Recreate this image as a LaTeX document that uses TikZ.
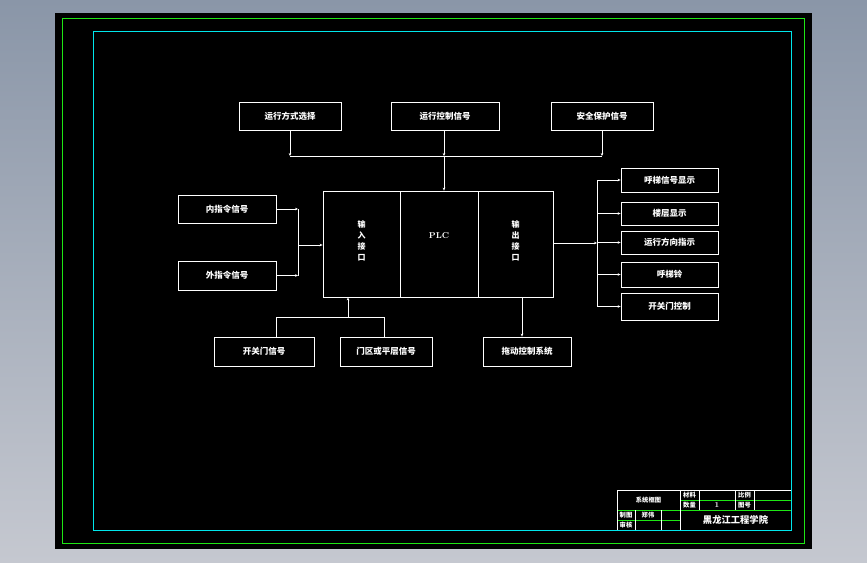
\documentclass[tikz,border=0pt]{standalone}
\usepackage{fontspec}
\newfontfamily\cjk{Noto Sans CJK SC}
\usetikzlibrary{arrows.meta}
\definecolor{bgtop}{RGB}{138,150,168}
\definecolor{bgbot}{RGB}{197,200,208}
\definecolor{cadgreen}{RGB}{30,230,20}
\definecolor{cadcyan}{RGB}{0,230,235}
\begin{document}
\begin{tikzpicture}[x=1pt,y=-1pt,
  box/.style={draw=white, line width=0.8pt, inner sep=0pt, text=white,
    font=\cjk\bfseries\fontsize{8.5}{9}\selectfont},
  lbl/.style={inner sep=0pt, text=white, font=\cjk\bfseries\fontsize{8.5}{9}\selectfont},
  small/.style={inner sep=0pt, text=white, font=\cjk\bfseries\fontsize{6.3}{7}\selectfont},
  conn/.style={draw=white, line width=0.8pt},
  arr/.style={conn, -{Stealth[length=3pt,width=2.6pt]}},
  tbw/.style={draw=white, line width=0.8pt},
  tbg/.style={draw=cadgreen, line width=0.8pt}]
\shade[top color=bgtop, bottom color=bgbot] (0,0) rectangle (867,562);
\useasboundingbox (0,0) rectangle (867,562);
\fill[black] (55,13) rectangle (812,549);
\draw[cadgreen, line width=1pt] (62,18) rectangle (804,543);
\draw[cadcyan, line width=0.9pt] (93,31) rectangle (791,530);

% top boxes
\node[box, minimum width=102pt, minimum height=28pt] (t1) at (290,116) {运行方式选择};
\node[box, minimum width=108pt, minimum height=28pt] (t2) at (445,116) {运行控制信号};
\node[box, minimum width=102pt, minimum height=28pt] (t3) at (602,116) {安全保护信号};

% PLC block
\node[box, minimum width=77pt, minimum height=106pt] (in) at (361.5,244) {};
\node[box, minimum width=78pt, minimum height=106pt] (plc) at (439,244) {};
\node[box, minimum width=75pt, minimum height=106pt] (out) at (515.5,244) {};
\node[lbl, align=center, font=\cjk\bfseries\fontsize{8}{11}\selectfont] (inl) at ([yshift=3pt]in.center) {输\\入\\接\\口};
\node[inner sep=0pt, text=white, font=\bfseries\fontsize{8.5}{9}\selectfont] (plcl) at ([yshift=8pt]plc.center) {PLC};
\node[lbl, align=center, font=\cjk\bfseries\fontsize{8}{11}\selectfont] (outl) at ([yshift=3pt]out.center) {输\\出\\接\\口};

% left boxes
\node[box, minimum width=98pt, minimum height=28pt] (l1) at (227,209) {内指令信号};
\node[box, minimum width=98pt, minimum height=29pt] (l2) at (227,275.5) {外指令信号};

% right boxes
\node[box, minimum width=97pt, minimum height=24pt] (r1) at (669.5,180) {呼梯信号显示};
\node[box, minimum width=97pt, minimum height=23pt] (r2) at (669.5,213.5) {楼层显示};
\node[box, minimum width=97pt, minimum height=23pt] (r3) at (669.5,242.5) {运行方向指示};
\node[box, minimum width=97pt, minimum height=25pt] (r4) at (669.5,274.5) {呼梯铃};
\node[box, minimum width=97pt, minimum height=27pt] (r5) at (669.5,306.5) {开关门控制};

% bottom boxes
\node[box, minimum width=100pt, minimum height=29pt] (b1) at (264,351.5) {开关门信号};
\node[box, minimum width=92pt, minimum height=29pt] (b2) at (386,351.5) {门区或平层信号};
\node[box, minimum width=88pt, minimum height=29pt] (b3) at (527,351.5) {拖动控制系统};

% junction coordinates
\coordinate (jt) at (444,156);
\coordinate (jl) at (298,245);
\coordinate (jr) at (597,243);
\coordinate (jb) at (348,317);

% top connectors
\draw[arr] (t1.south) -- (t1.south |- jt);
\draw[arr] (t2.south -| jt) -- (jt);
\draw[arr] (t3.south) -- (t3.south |- jt);
\draw[conn] (t1.south |- jt) -- (t3.south |- jt);
\draw[arr] (jt) -- (jt |- plc.north);

% left connectors
\draw[arr] (l1.east) -- (l1.east -| jl);
\draw[arr] (l2.east) -- (l2.east -| jl);
\draw[conn] (l1.east -| jl) -- (l2.east -| jl);
\draw[arr] (jl) -- (jl -| in.west);

% right connectors
\draw[arr] (out.east |- jr) -- (jr);
\draw[conn] (jr |- r1.west) -- (jr |- r5.west);
\foreach \r in {r1,r2,r3,r4,r5} \draw[arr] (jr |- \r.west) -- (\r.west);

% bottom connectors
\draw[conn] ([xshift=12pt]b1.north) |- ([xshift=-2pt]b2.north |- jb) -- ([xshift=-2pt]b2.north);
\draw[arr] (jb) -- (jb |- in.south);
\draw[arr] ([xshift=-5pt]b3.north |- out.south) -- ([xshift=-5pt]b3.north);

% title block
\draw[tbw] (617,490) -- (791,490);
\draw[tbg] (680,500) -- (791,500);
\draw[tbg] (617,510) -- (791,510);
\draw[tbg] (617,520) -- (680,520);
\draw[tbw] (617,490) -- (617,530);
\draw[tbw] (680,490) -- (680,530);
\draw[tbw] (699,490) -- (699,510);
\draw[tbw] (735,490) -- (735,510);
\draw[tbw] (754,490) -- (754,510);
\draw[tbw] (635,510) -- (635,530);
\draw[tbw] (661,510) -- (661,530);
\node[small] (tb1) at (648.5,500) {系统框图};
\node[small] (tb2) at (689.5,495) {材料};
\node[small] (tb3) at (689.5,505) {数量};
\node[small, font=\fontsize{7.5}{8}\selectfont\bfseries] (tb4) at (717,505) {1};
\node[small] (tb5) at (744.5,495) {比例};
\node[small] (tb6) at (744.5,505) {图号};
\node[small] (tb7) at (626,515) {制图};
\node[small] (tb8) at (648,515) {郑伟};
\node[small] (tb9) at (626,525) {审核};
\node[lbl, font=\cjk\bfseries\fontsize{9.3}{10}\selectfont] (tb10) at (735.5,520) {黑龙江工程学院};
\end{tikzpicture}
\end{document}
